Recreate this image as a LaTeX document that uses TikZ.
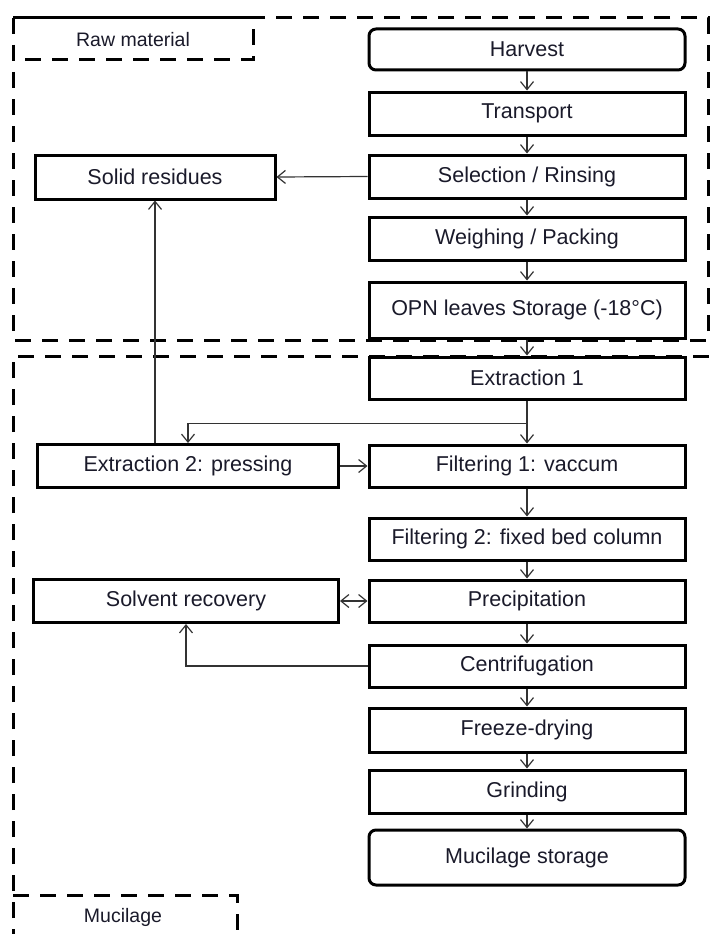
\documentclass[tikz,border=0pt]{standalone}
\usepackage{fontspec}
\setmainfont{Liberation Sans}
\usetikzlibrary{arrows.meta,calc}
\definecolor{txt}{HTML}{1A1A2A}
\definecolor{ln}{HTML}{333333}
\tikzset{
  box/.style={draw=black, line width=3pt, minimum width=316pt, minimum height=43pt, inner sep=0pt, text=txt, font=\fontsize{21.5}{25}\selectfont},
  rbox/.style={box, rounded corners=7pt},
  lbox/.style={box},
  tip/.style={},
  arr/.style={draw=ln, line width=1.2pt, -{Straight Barb[length=8pt,width=13pt,line width=1.2pt]}},
  arr2/.style={draw=ln, line width=1.2pt, {Straight Barb[length=8pt,width=13pt,line width=1.2pt]}-{Straight Barb[length=8pt,width=13pt,line width=1.2pt]}},
  region/.style={draw=black, line width=3pt, dash pattern=on 16pt off 11pt},
  lbl/.style={text=txt, font=\fontsize{19.5}{23}\selectfont, inner sep=0pt}
}
\begin{document}
\begin{tikzpicture}[x=1pt,y=-1pt]
\useasboundingbox (0,0) rectangle (712,934);
\clip (0,0) rectangle (712,934);
\fill[white] (0,0) rectangle (712,934);
% regions
\draw[region] (13,18) rectangle (708,340);
\draw[region] (13,18) rectangle (253,60);
\node[lbl] (rawlbl) at (133,40) {Raw material};
\draw[region] (13,945) -- (13,356) -- (725,356);
\draw[region] (13,895) -- (237,895) -- (237,945);
\node[lbl] (mulbl) at (123,917) {Mucilage};
% main column
\node[rbox, minimum height=41pt] (harvest) at (527,49.5) {Harvest};
\node[box] (transport) at (527,113.5) {Transport};
\node[box] (select) at (527,176.5) {Selection / Rinsing};
\node[box] (weigh) at (527,238.5) {Weighing / Packing};
\node[box, minimum height=56pt] (opn) at (527,310) {OPN leaves Storage (-18°C)};
\node[box, minimum height=42pt] (ext1) at (527,378) {Extraction 1};
\node[box, minimum height=42pt] (filt1) at (527,466) {Filtering 1: vaccum};
\node[box, minimum height=42pt] (filt2) at (527,539) {Filtering 2: fixed bed column};
\node[box, minimum height=42pt] (precip) at (527,601) {Precipitation};
\node[box, minimum height=42pt] (centr) at (527,666) {Centrifugation};
\node[box, minimum height=44pt] (freeze) at (527,730) {Freeze-drying};
\node[box] (grind) at (527,791.5) {Grinding};
\node[rbox, minimum height=55pt] (mstore) at (527,857.5) {Mucilage storage};
% left column
\node[lbox, minimum width=240pt, minimum height=44pt] (solid) at (155,177) {Solid residues};
\node[lbox, minimum width=301pt] (ext2) at (188,466) {Extraction 2: pressing};
\node[lbox, minimum width=305pt] (solvent) at (186,601) {Solvent recovery};
% connectors
\draw[arr] (harvest) -- (transport);
\draw[arr] (transport) -- (select);
\draw[arr] (select) -- (weigh);
\draw[arr] (weigh) -- (opn);
\draw[arr] (opn) -- (ext1);
\draw[arr] (select.west) -- (solid.east);
\draw[arr] (ext1) -- (filt1);
\coordinate (br) at ($(ext1.south)+(0,23)$);
\draw[arr] (br) -| (ext2.north);
\draw[arr] (ext2.east) -- (filt1.west);
\draw[arr] (solid.south |- ext2.north) -- (solid.south);
\draw[arr] (filt1) -- (filt2);
\draw[arr] (filt2) -- (precip);
\draw[arr] (precip) -- (centr);
\draw[arr] (centr) -- (freeze);
\draw[arr] (freeze) -- (grind);
\draw[arr] (grind) -- (mstore);
\draw[arr2] (solvent.east) -- (precip.west);
\draw[arr] (centr.west) -| (solvent.south);
\end{tikzpicture}
\end{document}
